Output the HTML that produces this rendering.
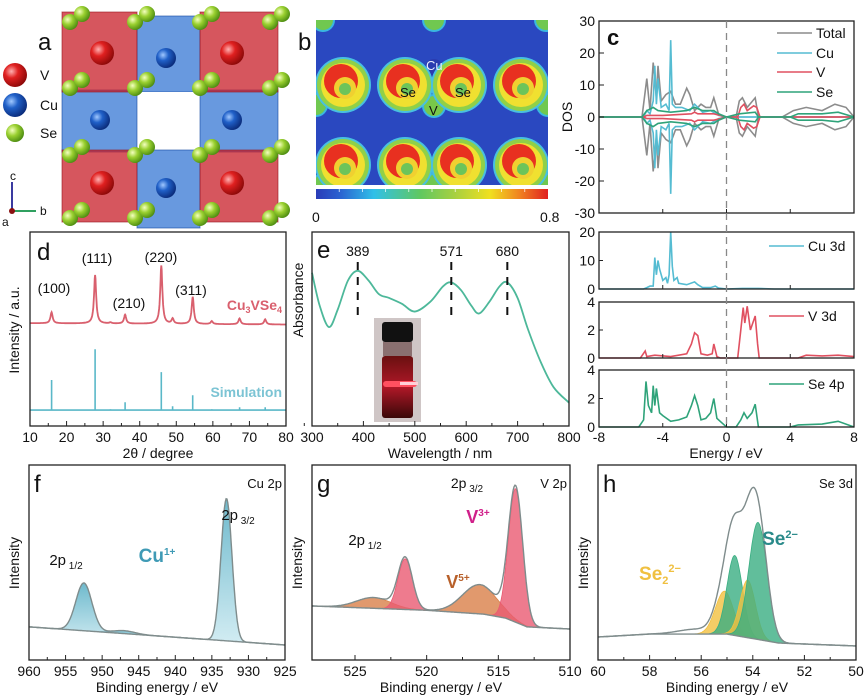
<!DOCTYPE html>
<html><head><meta charset="utf-8"><style>
html,body{margin:0;padding:0;background:#fff;}
svg{display:block;font-family:"Liberation Sans",sans-serif;}
</style></head><body>
<svg id="fig" width="866" height="696" viewBox="0 0 866 696">
<defs>
<radialGradient id="gV" cx="0.35" cy="0.35" r="0.7"><stop offset="0" stop-color="#ffb0b0"/><stop offset="0.4" stop-color="#e02020"/><stop offset="1" stop-color="#8a0808"/></radialGradient>
<radialGradient id="gCu" cx="0.35" cy="0.35" r="0.7"><stop offset="0" stop-color="#a0c8ff"/><stop offset="0.4" stop-color="#2060c8"/><stop offset="1" stop-color="#0a2a78"/></radialGradient>
<radialGradient id="gSe" cx="0.35" cy="0.35" r="0.7"><stop offset="0" stop-color="#f4ffc0"/><stop offset="0.45" stop-color="#9ad030"/><stop offset="1" stop-color="#4a8a10"/></radialGradient>
<linearGradient id="jet" x1="0" x2="1" y1="0" y2="0"><stop offset="0" stop-color="#2a3cb8"/><stop offset="0.1" stop-color="#2a60d0"/><stop offset="0.25" stop-color="#30c0e8"/><stop offset="0.45" stop-color="#60c860"/><stop offset="0.6" stop-color="#a8d040"/><stop offset="0.75" stop-color="#f0e020"/><stop offset="0.88" stop-color="#f08020"/><stop offset="1" stop-color="#e02020"/></linearGradient>
<linearGradient id="cuFill" x1="0" x2="0" y1="0" y2="1"><stop offset="0" stop-color="#4aa8c0"/><stop offset="1" stop-color="#c8e8f0"/></linearGradient>
<linearGradient id="liquid" x1="0" x2="0" y1="0" y2="1"><stop offset="0" stop-color="#6a1010"/><stop offset="0.5" stop-color="#b01828"/><stop offset="1" stop-color="#3a0808"/></linearGradient>
</defs>
</svg>
<script>
// ---------- DATA ----------
const dosTotalE=[-8,-5.3,-5,-4.8,-4.6,-4.4,-4.3,-4.1,-3.8,-3.5,-3.2,-2.9,-2.5,-2.3,-2,-1.6,-1.3,-1,-0.8,-0.5,-0.2,0.6,0.8,1.0,1.3,1.8,2.0,3.5,4.2,5,6,6.8,7.5,8];
const dosTotalV=[0,0,12,2,17,6,16,5,7,8,4,4,9,7,2,4,3,3,6,1,0,0,5,6,3,6,0,0,2,3,2,4,3,0];
const dosCuE=[-8,-5.2,-5,-4.8,-4.6,-4.5,-4.4,-4.3,-4.1,-3.8,-3.6,-3.5,-3.4,-3.2,-2.8,-2.3,-2,-1.5,-1,-0.5,0,8];
const dosCuV=[0,0,2,1,5,16,4,12,3,4,2,24,4,3,3,2,4,1.5,2,0.5,0,0];
const dosVE=[-8,-5.2,-5,-4,-2.2,-2,-1.8,-0.8,0,0.7,0.9,1.1,1.3,1.7,1.9,2.1,8];
const dosVV=[0,0,0.5,0.5,1,1.5,1,1,0,0,3,4,2,3.5,3,0,0];
const dosSeE=[-8,-5.3,-5,-4.6,-4.3,-3.5,-2.5,-2,-1.5,-0.8,-0.5,0,0.8,1.8,2,4,4.5,6,7,8];
const dosSeV=[0,0,2,3,2,1.5,2,3,2,2,1,0,1,1.5,0,0,1,1,1.5,0];
const cu3dE=[-8,-5.2,-5,-4.8,-4.6,-4.5,-4.4,-4.3,-4.2,-4.0,-3.8,-3.7,-3.6,-3.5,-3.4,-3.3,-3.1,-3.0,-2.5,-2,-1.8,-1.5,-1,-0.7,-0.5,0,1,2,3,8];
const cu3dV=[0,0,0.5,1,1,11,5,10,7,3,4,2,5,20,8,3,4,2,1.5,2.5,1.5,0.5,0.5,1,0.3,0,0.2,0.2,0,0];
const v3dE=[-8,-5.4,-5.1,-5.0,-4.5,-3.5,-2.5,-2.2,-2,-1.8,-1.6,-1.2,-0.9,-0.8,-0.6,-0.4,0.7,0.9,1.05,1.15,1.3,1.5,1.8,1.95,2.05,4.5,5,6,7,8];
const v3dV=[0,0,0.5,0.1,0.2,0.1,0.3,1,1.8,1.6,0.3,0.2,0.3,1,0.1,0,0,2,3.6,2.5,3.7,2,3,1,0,0,0.2,0.15,0.2,0.1];
const se4pE=[-8,-5.5,-5.2,-5.05,-4.9,-4.7,-4.6,-4.5,-4.4,-4.2,-4,-3.5,-3,-2.5,-2.2,-2,-1.8,-1.6,-1.3,-1,-0.8,-0.6,-0.3,0,0.6,0.9,1.1,1.3,1.6,1.8,2,4,4.5,6,7,8];
const se4pV=[0,0,0.5,3.2,1.5,1,2.9,1.5,2.7,1,0.8,0.4,0.5,0.7,1.5,2.2,1.5,0.5,0.6,1,2,0.6,0.3,0,0,0.5,1,0.6,1,1.6,0,0,0.15,0.2,0.4,0];
const dosTicks=[-30,-20,-10,0,10,20,30];
const energyTicks=[-8,-4,0,4,8];
// XRD
const xrdPos=[15.9,27.8,32,36,45.9,49,54.5,59.7,67.3,74.3];
const xrdExp=[5.7,25,0.5,4.6,30,2.6,14,1.5,3,2.6];
const xrdSim=[15.5,31.4,0.5,4,19.6,2,7.7,0.5,1.5,1.5];
const xrdTicks=[10,20,30,40,50,60,70,80];
// Absorbance
const absWl=[300,315,333,350,370,389,410,430,450,475,500,530,555,571,590,610,625,645,665,680,700,720,745,770,800];
const absVal=[0.79,0.62,0.51,0.6,0.75,0.80,0.75,0.68,0.66,0.63,0.59,0.64,0.72,0.74,0.70,0.62,0.58,0.64,0.72,0.74,0.66,0.50,0.33,0.20,0.12];
const absMarks=[389,571,680];
const wlTicks=[300,400,500,600,700,800];
// XPS f (Cu 2p)
const cuPeakPos=[952.5,947,933];
const cuPeakH=[24.5,1.5,73];
const cuPeakW=[1.1,1.5,0.75];
const cuBaseE=[960,925];
const cuBaseV=[17,7.7];
const cuTicks=[960,955,950,945,940,935,930,925];
// XPS g (V 2p)
const vPeakPos=[523.7,521.5,516.3,513.8];
const vPeakH=[5.5,26,15,68.5];
const vPeakW=[1.2,0.5,1.2,0.5];
const vPeakKind=['o','r','o','r'];
const vBaseE=[528,520,516,514.5,513,510];
const vBaseV=[27.7,25.5,23.5,21.5,17,15.9];
const vTicks=[525,520,515,510];
// XPS h (Se 3d)
const sePeakPos=[56.2,55.1,54.7,54.2,53.8];
const sePeakH=[2.5,22,41,29.5,60];
const sePeakW=[0.7,0.35,0.3,0.3,0.35];
const sePeakKind=['n','y','g','y','g'];
const seBaseE=[60,58,55,53,50];
const seBaseV=[11.8,13.3,13.3,8.7,7.2];
const seTicks=[60,58,56,54,52,50];

// ---------- HELPERS ----------
const NS='http://www.w3.org/2000/svg';
const svg=document.getElementById('fig');
function mk(tag,attrs,parent){const e=document.createElementNS(NS,tag);for(const k in attrs)e.setAttribute(k,attrs[k]);(parent||svg).appendChild(e);return e;}
function lin(d0,d1,r0,r1){return v=>r0+(v-d0)*(r1-r0)/(d1-d0);}
function interp(xs,ys,x){if(xs[0]>xs[xs.length-1]){xs=xs.slice().reverse();ys=ys.slice().reverse();}
 if(x<=xs[0])return ys[0];for(let i=1;i<xs.length;i++){if(x<=xs[i]){const t=(x-xs[i-1])/(xs[i]-xs[i-1]);return ys[i-1]+t*(ys[i]-ys[i-1]);}}return ys[ys.length-1];}
function txt(x,y,s,size,opts,parent){const t=mk('text',Object.assign({x:x,y:y,'font-size':size,fill:'#111'},opts||{}),parent);t.textContent=s;return t;}
function grp(parent){return mk('g',{},parent);}
function smooth(pts){let d='M'+pts[0][0]+','+pts[0][1];for(let i=0;i<pts.length-1;i++){const p0=pts[i-1]||pts[i],p1=pts[i],p2=pts[i+1],p3=pts[i+2]||p2;
 d+=' C'+(p1[0]+(p2[0]-p0[0])/6)+','+(p1[1]+(p2[1]-p0[1])/6)+' '+(p2[0]-(p3[0]-p1[0])/6)+','+(p2[1]-(p3[1]-p1[1])/6)+' '+p2[0]+','+p2[1];}return d;}

// ---------- PANEL A ----------
const gA=grp();


const redBoxes=[[62,12,75,80],[200,12,78,80],[62,150,75,72],[200,150,78,72]];
const blueBoxes=[[137,16,63,76],[62,90,75,62],[200,90,78,62],[137,150,63,78]];
blueBoxes.forEach(b=>{const r=mk('rect',{x:b[0],y:b[1],width:b[2],height:b[3],fill:'rgba(40,110,210,0.7)',stroke:'rgba(20,70,160,0.6)'},gA);

});
redBoxes.forEach(b=>{const r=mk('rect',{x:b[0],y:b[1],width:b[2],height:b[3],fill:'rgba(200,30,40,0.75)',stroke:'rgba(150,20,30,0.6)'},gA);

});
mk('rect',{x:142,y:92,width:56,height:56,fill:'#fff'},gA);
const seX=[70,135,200,270],seY=[22,88,155,218];
seX.forEach(x=>seY.forEach(y=>{[[0,0],[12,-8]].forEach(o=>{const c=mk('circle',{cx:x+o[0],cy:y+o[1],r:8,fill:'url(#gSe)'},gA);

});}));
[[102,53],[232,53],[102,183],[232,183]].forEach(p=>{const c=mk('circle',{cx:p[0],cy:p[1],r:12,fill:'url(#gV)'},gA);

});
[[166,58],[166,188],[100,120],[232,120]].forEach(p=>{const c=mk('circle',{cx:p[0],cy:p[1],r:10,fill:'url(#gCu)'},gA);

});
let t;
t=txt(38,50,'a',24,{},gA);
[['V','url(#gV)',75],['Cu','url(#gCu)',105],['Se','url(#gSe)',133]].forEach(l=>{const c=mk('circle',{cx:15,cy:l[2],r:l[0]==='Se'?9:12,fill:l[1]},gA);


const tt=txt(40,l[2]+5,l[0],14,{},gA);

});
mk('line',{x1:12,y1:211,x2:12,y2:182,stroke:'#3a3aa0','stroke-width':2},gA);
mk('line',{x1:12,y1:211,x2:36,y2:211,stroke:'#30a060','stroke-width':2},gA);
mk('circle',{cx:12,cy:211,r:3,fill:'#8a1010'},gA);
t=txt(10,180,'c',12,{},gA);
t=txt(40,215,'b',12,{},gA);
t=txt(2,226,'a',12,{},gA);

// ---------- PANEL B ----------
const gB=grp();


const clip=mk('clipPath',{id:'bclip'},svg.querySelector('defs'));
mk('rect',{x:316,y:20,width:232,height:165},clip);
const hm=mk('g',{'clip-path':'url(#bclip)'},gB);
mk('rect',{x:316,y:20,width:232,height:165,fill:'#2a48c0'},hm);
[[323,20],[434,20],[546,20],[316,105],[548,105],[323,185],[434,185],[546,185]].forEach(p=>{
 mk('circle',{cx:p[0],cy:p[1],r:12,fill:'#3ab8e0'},hm);mk('circle',{cx:p[0],cy:p[1],r:10,fill:'#70c850'},hm);});
mk('circle',{cx:434,cy:106,r:12,fill:'#3ab8e0'},hm);mk('circle',{cx:434,cy:106,r:10,fill:'#78c84a'},hm);
mk('circle',{cx:434,cy:68,r:9,fill:'#2a3cb0'},hm);
[343,405,459,521].forEach(x=>[85,165].forEach(y=>{
 const c=mk('circle',{cx:x,cy:y,r:28,fill:'#48c0e0'},hm);
 
 
 mk('circle',{cx:x,cy:y,r:26,fill:'#90d048'},hm);
 mk('circle',{cx:x,cy:y,r:22,fill:'#f0e030'},hm);
 mk('circle',{cx:x-2,cy:y-4,r:17,fill:'#e83020'},hm);
 mk('circle',{cx:x+2,cy:y+3,r:11,fill:'#f0d030'},hm);
 mk('circle',{cx:x+2,cy:y+4,r:6,fill:'#6cc45a'},hm);}));
t=txt(298,50,'b',24,{},gB);
t=txt(426,70,'Cu',13,{fill:'#e8eeff'},gB);
t=txt(400,97,'Se',13,{},gB);
t=txt(455,97,'Se',13,{},gB);
t=txt(429,115,'V',13,{},gB);
const cb=mk('rect',{x:316,y:189,width:232,height:10,fill:'url(#jet)'},gB);


for(let i=1;i<10;i++)mk('line',{x1:316+i*23.2,x2:316+i*23.2,y1:189,y2:192,stroke:'#fff','stroke-width':0.7},gB);
t=txt(312,222,'0',14,{},gB);
t=txt(540,222,'0.8',14,{},gB);

// ---------- PANEL C ----------
const gC=grp();


const cx=lin(-8,8,599,854);
const cyMain=lin(-30,30,213,21);
function dosPath(E,V,ys,sign){return E.map((e,i)=>(i?'L':'M')+cx(e).toFixed(1)+','+ys(sign*V[i]).toFixed(1)).join(' ');}
[[dosTotalE,dosTotalV,'#8c8c8c','dos-total'],[dosCuE,dosCuV,'#55bcd2','dos-cu'],[dosVE,dosVV,'#e05060','dos-v'],[dosSeE,dosSeV,'#2fa37a','dos-se']].forEach(s=>{
 [1,-1].forEach(sg=>{const p=mk('path',{d:dosPath(s[0],s[1],cyMain,sg),fill:'none',stroke:s[2],'stroke-width':1.6},gC);
 
 });});
const fr=mk('rect',{x:599,y:21,width:255,height:192,fill:'none',stroke:'#222','stroke-width':1.3},gC);


dosTicks.forEach(v=>{mk('line',{x1:599,x2:604,y1:cyMain(v),y2:cyMain(v),stroke:'#222'},gC);
 const tt=txt(595,cyMain(v)+5,String(v),14,{'text-anchor':'end'},gC);
 
 });
energyTicks.forEach(e=>mk('line',{x1:cx(e),x2:cx(e),y1:213,y2:209,stroke:'#222'},gC));
t=txt(572,117,'DOS',14,{'text-anchor':'middle',transform:'rotate(-90 572 117)'},gC);
t=txt(607,45,'c',22,{'font-weight':'bold'},gC);
[['Total','#8c8c8c',33],['Cu','#55bcd2',53],['V','#e05060',72],['Se','#2fa37a',92]].forEach(l=>{
 mk('line',{x1:777,x2:812,y1:l[2],y2:l[2],stroke:l[1],'stroke-width':1.6},gC);
 const tt=txt(816,l[2]+5,l[0],14,{},gC);
 
 });
const subs=[[cu3dE,cu3dV,232,289,20,[0,10,20],'#55bcd2','Cu 3d'],[v3dE,v3dV,302,358,4,[0,2,4],'#e05060','V 3d'],[se4pE,se4pV,370,427,4,[0,2,4],'#2fa37a','Se 4p']];
subs.forEach(s=>{const ys=lin(0,s[4],s[3],s[2]);
 const p=mk('path',{d:dosPath(s[0],s[1],ys,1),fill:'none',stroke:s[6],'stroke-width':1.6},gC);
 
 
 mk('rect',{x:599,y:s[2],width:255,height:s[3]-s[2],fill:'none',stroke:'#222','stroke-width':1.3},gC);
 s[5].forEach(v=>{mk('line',{x1:599,x2:603,y1:ys(v),y2:ys(v),stroke:'#222'},gC);
  const tt=txt(595,ys(v)+5,String(v),14,{'text-anchor':'end'},gC);
  
  });
 energyTicks.forEach(e=>mk('line',{x1:cx(e),x2:cx(e),y1:s[3],y2:s[3]-4,stroke:'#222'},gC));
 mk('line',{x1:769,x2:804,y1:s[2]+14,y2:s[2]+14,stroke:s[6],'stroke-width':1.6},gC);
 const lt=txt(808,s[2]+19,s[7],14,{},gC);
 
 });
const dl=mk('line',{x1:cx(0),x2:cx(0),y1:21,y2:427,stroke:'#888','stroke-width':1.3,'stroke-dasharray':'7,5'},gC);


energyTicks.forEach(e=>{const tt=txt(cx(e),442,String(e),14,{'text-anchor':'middle'},gC);
 
 });
t=txt(726,458,'Energy / eV',14,{'text-anchor':'middle'},gC);

// ---------- PANEL D ----------
const gD=grp();


const dx=lin(10,80,30,286), dy=lin(0,100,426,232);
function lor(x,p,h,w){return h/(1+((x-p)/w)*((x-p)/w));}
let expPts=[],simD='';
for(let x=10;x<=80.001;x+=0.1){let v=53-0.01*(x-10);xrdPos.forEach((p,i)=>v+=lor(x,p,xrdExp[i],0.35));expPts.push((expPts.length?'L':'M')+dx(x).toFixed(1)+','+dy(v).toFixed(1));}
const ep=mk('path',{d:expPts.join(' '),fill:'none',stroke:'#d9606e','stroke-width':1.8},gD);


simD='M'+dx(10)+','+dy(8.2)+' L'+dx(80)+','+dy(8.2);
xrdPos.forEach((p,i)=>{simD+=' M'+dx(p).toFixed(1)+','+dy(8.2)+' L'+dx(p).toFixed(1)+','+dy(8.2+xrdSim[i]).toFixed(1);});
const sp=mk('path',{d:simD,fill:'none',stroke:'#5ab8c8','stroke-width':1.6},gD);


mk('rect',{x:30,y:232,width:256,height:194,fill:'none',stroke:'#222','stroke-width':1.3},gD);
xrdTicks.forEach(v=>{mk('line',{x1:dx(v),x2:dx(v),y1:426,y2:421,stroke:'#222'},gD);mk('line',{x1:dx(v+5),x2:dx(v+5),y1:426,y2:423,stroke:'#222'},gD);
 const tt=txt(dx(v),442,String(v),14,{'text-anchor':'middle'},gD);
 
 });
t=txt(158,458,'2θ / degree',14,{'text-anchor':'middle'},gD);
t=txt(19,330,'Intensity / a.u.',14,{'text-anchor':'middle',transform:'rotate(-90 19 330)'},gD);
t=txt(37,260,'d',24,{},gD);
[['(100)',54,293],['(111)',97,263],['(210)',129,308],['(220)',161,262],['(311)',191,295]].forEach(l=>{const tt=txt(l[1],l[2],l[0],14,{'text-anchor':'middle'},gD);
 
 });
t=mk('text',{x:282,y:310,'font-size':14,'font-weight':'bold',fill:'#d9606e','text-anchor':'end'},gD);
t.innerHTML='Cu<tspan font-size="9" dy="3">3</tspan><tspan dy="-3">VSe</tspan><tspan font-size="9" dy="3">4</tspan>';


t=txt(282,397,'Simulation',14,{'text-anchor':'end','font-weight':'bold',fill:'#7cc4d4'},gD);

// ---------- PANEL E ----------
const gE=grp();


const ex=lin(300,800,312,569), ey=lin(0,1,426,232);
const ap=mk('path',{d:smooth(absWl.map((w,i)=>[ex(w),ey(absVal[i])])),fill:'none',stroke:'#4db89a','stroke-width':1.8},gE);


absMarks.forEach(w=>{const l=mk('line',{x1:ex(w),x2:ex(w),y1:262,y2:320,stroke:'#111','stroke-width':2,'stroke-dasharray':'8,7'},gE);
 
 
 const tt=txt(ex(w),256,String(w),14,{'text-anchor':'middle'},gE);
 
 });
const ph=grp(gE);


mk('rect',{x:374,y:318,width:47,height:104,fill:'#cfc6c6'},ph);
mk('rect',{x:382,y:322,width:31,height:20,rx:3,fill:'#111'},ph);
mk('rect',{x:383,y:342,width:29,height:14,fill:'#8a7070'},ph);
mk('rect',{x:382,y:356,width:31,height:62,rx:3,fill:'url(#liquid)'},ph);
mk('rect',{x:383,y:381,width:34,height:6,rx:3,fill:'#ff5060'},ph);
mk('rect',{x:400,y:382,width:18,height:3,fill:'#ffd0d8'},ph);
mk('rect',{x:312,y:232,width:257,height:194,fill:'none',stroke:'#222','stroke-width':1.3},gE);
wlTicks.forEach(v=>{mk('line',{x1:ex(v),x2:ex(v),y1:426,y2:421,stroke:'#222'},gE);if(v<800)mk('line',{x1:ex(v+50),x2:ex(v+50),y1:426,y2:423,stroke:'#222'},gE);
 const tt=txt(ex(v),442,String(v),14,{'text-anchor':'middle'},gE);
 
 });
t=txt(440,458,'Wavelength / nm',14,{'text-anchor':'middle'},gE);
t=txt(303,300,'Absorbance',14,{'text-anchor':'middle',transform:'rotate(-90 303 300)'},gE);
t=txt(317,258,'e',24,{},gE);

// ---------- XPS ----------
function gauss(x,p,h,w){return h*Math.exp(-0.5*((x-p)/w)*((x-p)/w));}
function xpsPanel(name,x0,x1,dom0,dom1,bE,bV,pos,H,W,kinds,colors,ticks,minorStep,letter,title){
 const g=grp();
 
 
 const xs=lin(dom0,dom1,x0,x1), ys=lin(0,100,660,465);
 const step=(dom1-dom0)/300;
 const base=[],xsArr=[];for(let i=0;i<=300;i++){const e=dom0+i*step;xsArr.push(e);base.push(interp(bE,bV,e));}
 pos.forEach((p,k)=>{if(kinds[k]==='n')return;
  let up='',down='';xsArr.forEach((e,i)=>{const v=base[i]+gauss(e,p,H[k],W[k]);up+=(i?'L':'M')+xs(e).toFixed(1)+','+ys(v).toFixed(1)+' ';});
  for(let i=xsArr.length-1;i>=0;i--)down+='L'+xs(xsArr[i]).toFixed(1)+','+ys(base[i]).toFixed(1)+' ';
  const f=mk('path',{d:up+down+'Z',fill:colors[kinds[k]],'fill-opacity':0.8,stroke:colors[kinds[k]],'stroke-width':0.8},g);
  
  });
 let env='';xsArr.forEach((e,i)=>{let v=base[i];pos.forEach((p,k)=>v+=gauss(e,p,H[k],W[k]));env+=(i?'L':'M')+xs(e).toFixed(1)+','+ys(v).toFixed(1)+' ';});
 const ev=mk('path',{d:env,fill:'none',stroke:'#7f8c8c','stroke-width':1.4},g);
 
 
 const bl=mk('path',{d:xsArr.map((e,i)=>(i?'L':'M')+xs(e).toFixed(1)+','+ys(base[i]).toFixed(1)).join(' '),fill:'none',stroke:'#7f8c8c','stroke-width':1.4},g);
 
 
 mk('rect',{x:x0,y:465,width:x1-x0,height:195,fill:'none',stroke:'#222','stroke-width':1.3},g);
 ticks.forEach(v=>{mk('line',{x1:xs(v),x2:xs(v),y1:660,y2:655,stroke:'#222'},g);
  const m=v+minorStep; if((m-dom0)*(m-dom1)<0) mk('line',{x1:xs(m),x2:xs(m),y1:660,y2:657,stroke:'#222'},g);
  const tt=txt(xs(v),676,String(v),14,{'text-anchor':'middle'},g);
  
  });
 const at=txt((x0+x1)/2,692,'Binding energy / eV',14,{'text-anchor':'middle'},g);
 
 
 const yt=txt(x0-10,563,'Intensity',14,{'text-anchor':'middle',transform:'rotate(-90 '+(x0-10)+' 563)'},g);
 
 
 const lt=txt(x0+5,492,letter,24,{},g);
 
 
 const tt2=txt(x1-3,488,title,13,{'text-anchor':'end'},g);
 
 
 return g;}
const gF=xpsPanel('panel-f-cu2p',29,285,960,925,cuBaseE,cuBaseV,cuPeakPos,cuPeakH,cuPeakW,['c','c','c'],{c:'url(#cuFill)'},cuTicks,-2.5,'f','Cu 2p');
const gG=xpsPanel('panel-g-v2p',312,570,528,510,vBaseE,vBaseV,vPeakPos,vPeakH,vPeakW,vPeakKind,{o:'#d98048',r:'#ea5a72'},vTicks,-2.5,'g','V 2p');
const gH=xpsPanel('panel-h-se3d',598,856,60,50,seBaseE,seBaseV,sePeakPos,sePeakH,sePeakW,sePeakKind,{y:'#f2c040',g:'#3aae82'},seTicks,-1,'h','Se 3d');
function rich(parent,x,y,html,opts,name){const e=mk('text',Object.assign({x:x,y:y,'font-size':15,fill:'#111'},opts),parent);e.innerHTML=html;
 
 return e;}
rich(gF,238,520,'2p<tspan font-size="10" dy="4"> 3/2</tspan>',{'text-anchor':'middle'},'label-2p3-2');
rich(gF,66,565,'2p<tspan font-size="10" dy="4"> 1/2</tspan>',{'text-anchor':'middle'},'label-2p1-2');
rich(gF,157,562,'Cu<tspan font-size="10" dy="-7">1+</tspan>',{'text-anchor':'middle','font-weight':'bold',fill:'#3f9ab5','font-size':19},'cu1-plus-label');
rich(gG,467,488,'2p<tspan font-size="10" dy="4"> 3/2</tspan>',{'text-anchor':'middle','font-size':14},'label-2p3-2');
rich(gG,365,545,'2p<tspan font-size="10" dy="4"> 1/2</tspan>',{'text-anchor':'middle'},'label-2p1-2');
rich(gG,478,523,'V<tspan font-size="10" dy="-7">3+</tspan>',{'text-anchor':'middle','font-weight':'bold',fill:'#d0208a','font-size':18},'v3-plus-label');
rich(gG,458,588,'V<tspan font-size="10" dy="-7">5+</tspan>',{'text-anchor':'middle','font-weight':'bold',fill:'#b8602a','font-size':18},'v5-plus-label');
rich(gH,780,545,'Se<tspan font-size="11" dy="-7">2−</tspan>',{'text-anchor':'middle','font-weight':'bold',fill:'#2a8a8a','font-size':19},'se2-minus-label');
rich(gH,660,580,'Se<tspan font-size="11" dy="4">2</tspan><tspan font-size="11" dy="-12">2−</tspan>',{'text-anchor':'middle','font-weight':'bold',fill:'#f0c040','font-size':19},'se2-2minus-label');
</script>
</body></html>
